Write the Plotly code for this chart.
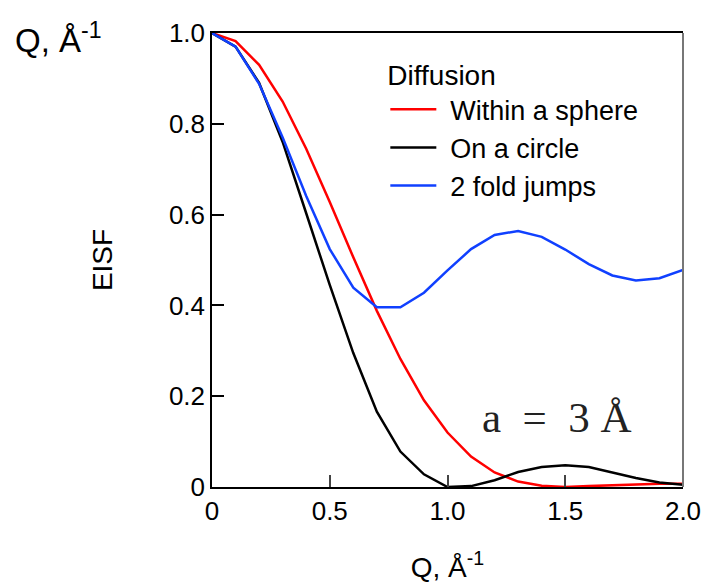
import plotly.graph_objects as go

# Momentum transfer Q (1/Å) and elastic incoherent structure factors
q = [0.0, 0.1, 0.2, 0.3, 0.4, 0.5, 0.6, 0.7, 0.8, 0.9, 1.0,
     1.1, 1.2, 1.3, 1.4, 1.5, 1.6, 1.7, 1.8, 1.9, 2.0]
eisf_sphere = [1.0, 0.982, 0.930, 0.849, 0.745, 0.628, 0.506, 0.388, 0.282, 0.191, 0.120,
               0.067, 0.032, 0.012, 0.003, 0.0, 0.002, 0.004, 0.006, 0.007, 0.007]
eisf_circle = [1.0, 0.970, 0.890, 0.760, 0.603, 0.445, 0.295, 0.166, 0.078, 0.028, 0.0,
               0.002, 0.015, 0.033, 0.044, 0.048, 0.044, 0.032, 0.020, 0.010, 0.005]
eisf_jumps = [1.0, 0.970, 0.888, 0.770, 0.641, 0.524, 0.439, 0.396, 0.396, 0.428, 0.477,
              0.524, 0.555, 0.564, 0.551, 0.523, 0.491, 0.466, 0.455, 0.460, 0.478]

series_names = ["Within a sphere", "On a circle", "2 fold jumps"]
series_colors = ["#ff0000", "#000000", "#1040ff"]

x_ticks = [0, 0.5, 1.0, 1.5, 2.0]
x_ticktext = ["0", "0.5", "1.0", "1.5", "2.0"]
y_ticks = [0, 0.2, 0.4, 0.6, 0.8, 1.0]
y_ticktext = ["0", "0.2", "0.4", "0.6", "0.8", "1.0"]

FONT = "Liberation Sans, Arial, Helvetica, sans-serif"

fig = go.Figure()
for name, ys, col in zip(series_names, [eisf_sphere, eisf_circle, eisf_jumps], series_colors):
    # a small lead space separates the legend sample line from its label
    fig.add_trace(go.Scatter(x=q, y=ys, mode="lines", name="\u2004" + name,
                             line=dict(color=col, width=2.5)))

fig.update_layout(
    width=706, height=583,
    margin=dict(l=212, r=23, t=33, b=96, autoexpand=False),
    paper_bgcolor="white", plot_bgcolor="white",
    font=dict(family=FONT, color="black", size=26),
    showlegend=True,
    legend=dict(
        title=dict(text="Diffusion", font=dict(size=28, family=FONT)),
        font=dict(size=27, family=FONT),
        x=0.368, y=0.965, xanchor="left", yanchor="top",
        bgcolor="rgba(0,0,0,0)", itemwidth=46, tracegroupgap=0,
    ),
    xaxis=dict(
        range=[0, 2.0], tickvals=x_ticks, ticktext=x_ticktext,
        ticks="inside", ticklen=12, tickwidth=1.5, tickcolor="#444",
        showline=True, linecolor="black", linewidth=1.5, mirror=True,
        showgrid=False, zeroline=False, automargin=False,
        tickfont=dict(size=26, family=FONT),
        title=dict(text="Q, Å<sup>-1</sup>", font=dict(size=28, family=FONT), standoff=32),
    ),
    yaxis=dict(
        range=[0, 1.0], tickvals=y_ticks, ticktext=y_ticktext,
        ticks="inside", ticklen=12, tickwidth=1.5, tickcolor="black",
        showline=True, linecolor="black", linewidth=1.5, mirror=False,
        showgrid=False, zeroline=False, automargin=False,
        tickfont=dict(size=26, family=FONT),
        title=dict(text="EISF", font=dict(size=28, family=FONT), standoff=48),
    ),
    shapes=[dict(type="line", xref="paper", yref="paper", x0=1, x1=1, y0=0, y1=1,
                 line=dict(color="#777", width=2))],
    annotations=[
        dict(text="Q, Å<sup>-1</sup>", xref="paper", yref="paper",
             x=-0.422, y=0.99, xanchor="left", yanchor="middle", showarrow=False,
             font=dict(size=33, family=FONT, color="black")),
        dict(text="a\u2002=\u20023\u2005Å", xref="x", yref="y",
             x=1.467, y=0.152, xanchor="center", yanchor="middle", showarrow=False,
             font=dict(size=43, family="Liberation Serif, Times New Roman, serif", color="#222")),
    ],
)

fig.write_html("out.html")
